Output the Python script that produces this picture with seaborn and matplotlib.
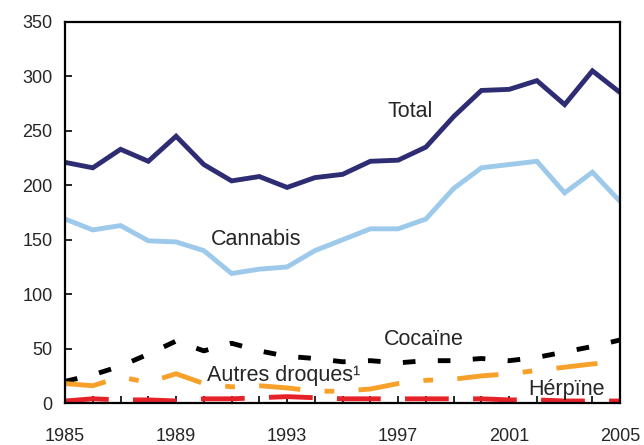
import matplotlib
matplotlib.use("Agg")
import matplotlib.pyplot as plt
import seaborn as sns
import pandas as pd

years = list(range(1985, 2006))
total = [221, 216, 233, 222, 245, 219, 204, 208, 198, 207, 210, 222, 223, 235, 263, 287, 288, 296, 274, 305, 285]
cannabis = [169, 159, 163, 149, 148, 140, 119, 123, 125, 140, 150, 160, 160, 169, 197, 216, 219, 222, 193, 212, 185]
cocaine = [20, 26, 34, 45, 57, 48, 55, 48, 43, 41, 38, 39, 37, 39, 39, 41, 39, 42, 47, 52, 58]
autres = [18, 16, 24, 19, 27, 18, 15, 16, 14, 11, 11, 13, 18, 21, 22, 25, 27, 30, 33, 36, 38]
heroine = [2, 4, 3, 3, 2, 4, 4, 5, 6, 5, 4, 4, 4, 4, 4, 4, 3, 3, 2, 2, 2]

xtick_labels = ["1985", "1989", "1993", "1997", "2001", "2005"]
ytick_values = [0, 50, 100, 150, 200, 250, 300, 350]

sns.set_style("ticks")
plt.rcParams['font.family'] = ['Liberation Sans', 'DejaVu Sans']

fig = plt.figure(figsize=(6.44, 4.45), dpi=100)
ax = fig.add_axes([0.101, 0.094, 0.862, 0.857])

series = [
    (total, "#2e2d74", None),
    (cannabis, "#9dc9ea", None),
    (cocaine, "#000000", (2.6, 4.6)),
    (autres, "#f7a12b", (8.5, 5.0, 2.0, 5.0)),
    (heroine, "#e62229", (9.0, 5.0)),
]
lw = 3.5
for vals, col, dash in series:
    df = pd.DataFrame({"year": years, "value": vals})
    sns.lineplot(data=df, x="year", y="value", ax=ax, color=col, lw=lw)
    line = ax.lines[-1]
    line.set_solid_capstyle("butt")
    line.set_dash_capstyle("butt")
    line.set_solid_joinstyle("miter")
    if dash is not None:
        line.set_dashes(dash)

ax.set_xlim(1985, 2005)
ax.set_ylim(0, 350)
ax.set_xticks(years, minor=False)
ax.set_xticklabels([str(y) if str(y) in xtick_labels else "" for y in years])
ax.set_yticks(ytick_values)
ax.set_xlabel("")
ax.set_ylabel("")
for s in ax.spines.values():
    s.set_visible(True)
    s.set_linewidth(1.6)
    s.set_color("black")
ax.tick_params(axis="x", direction="in", length=5, width=1.4, pad=18, labelsize=13)
ax.tick_params(axis="y", direction="in", length=5, width=1.4, pad=9, labelsize=13)
ax.tick_params(top=False, right=False)

fs = 15.5
ax.text(1996.6, 268, "Total", fontsize=fs, ha="left", va="center")
ax.text(1990.25, 150, "Cannabis", fontsize=fs, ha="left", va="center")
ax.text(1996.5, 58, "Cocaïne", fontsize=fs, ha="left", va="center")
ax.text(1990.1, 25, "Autres droques¹", fontsize=fs, ha="left", va="center")
ax.text(2001.7, 13, "Hérpïne", fontsize=fs, ha="left", va="center")

fig.savefig("out.png", dpi=100)
